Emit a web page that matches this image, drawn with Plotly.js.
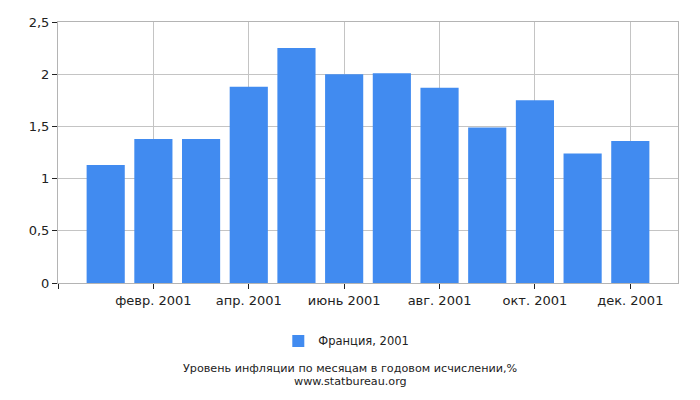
<!DOCTYPE html>
<html>
<head>
<meta charset="utf-8">
<script src="https://cdn.plot.ly/plotly-3.0.1.min.js"></script>
<style>
  html, body { margin: 0; padding: 0; background: #fff; }
  #chart { width: 700px; height: 400px; }
</style>
</head>
<body>
<div id="chart"></div>
<script>
// Monthly inflation, France 2001 (year-on-year, %)
const months = ['янв. 2001', 'февр. 2001', 'март 2001', 'апр. 2001', 'май 2001', 'июнь 2001',
                'июль 2001', 'авг. 2001', 'сент. 2001', 'окт. 2001', 'нояб. 2001', 'дек. 2001'];
const inflation = [1.13, 1.38, 1.38, 1.88, 2.25, 2.0, 2.01, 1.87, 1.49, 1.75, 1.24, 1.36];
const seriesName = 'Франция, 2001';
const yTicks = [0, 0.5, 1, 1.5, 2, 2.5];

const xIdx = months.map((m, i) => i);
// labels every second month, plus an unlabeled tick at the left edge
const tickVals = [-1].concat(xIdx.filter(i => i % 2 === 1));
const tickText = [''].concat(months.filter((m, i) => i % 2 === 1));

const trace = {
    type: 'bar',
    x: xIdx,
    y: inflation,
    name: seriesName,
    width: 0.8,
    marker: { color: '#418bf0' },
    hoverinfo: 'y'
};

const axisLine = '#b4b4b4';

const layout = {
    width: 700,
    height: 400,
    margin: { l: 58, r: 22, t: 22, b: 117 },
    paper_bgcolor: '#fff',
    plot_bgcolor: '#fff',
    separators: ', ',
    font: { family: 'DejaVu Sans, sans-serif', size: 13, color: '#222' },
    showlegend: true,
    // legend and caption are centred on the page, not on the plot area
    legend: {
        orientation: 'h',
        x: 0.465, xanchor: 'center',
        y: -0.222, yanchor: 'middle',
        font: { size: 11.5 }
    },
    xaxis: {
        range: [-1, 12],
        tickvals: tickVals,
        ticktext: tickText,
        ticks: 'outside',
        ticklen: 5,
        tickcolor: '#222',
        showgrid: true,
        gridcolor: '#c4c4c4',
        showline: true,
        linecolor: axisLine,
        mirror: true,
        zeroline: false,
        fixedrange: true
    },
    yaxis: {
        range: [0, 2.5],
        tickvals: yTicks,
        ticks: 'outside',
        ticklen: 5,
        tickcolor: '#222',
        showgrid: true,
        gridcolor: '#c4c4c4',
        showline: true,
        linecolor: axisLine,
        mirror: true,
        zeroline: false,
        fixedrange: true
    },
    annotations: [
        {
            text: 'Уровень инфляции по месяцам в годовом исчислении,%',
            xref: 'paper', yref: 'paper',
            x: 0.471, y: -0.328, xanchor: 'center', yanchor: 'middle',
            showarrow: false,
            font: { size: 11.2 }
        },
        {
            text: 'www.statbureau.org',
            xref: 'paper', yref: 'paper',
            x: 0.471, y: -0.378, xanchor: 'center', yanchor: 'middle',
            showarrow: false,
            font: { size: 11.2 }
        }
    ]
};

Plotly.newPlot('chart', [trace], layout, { displayModeBar: false, staticPlot: true });
</script>
</body>
</html>
